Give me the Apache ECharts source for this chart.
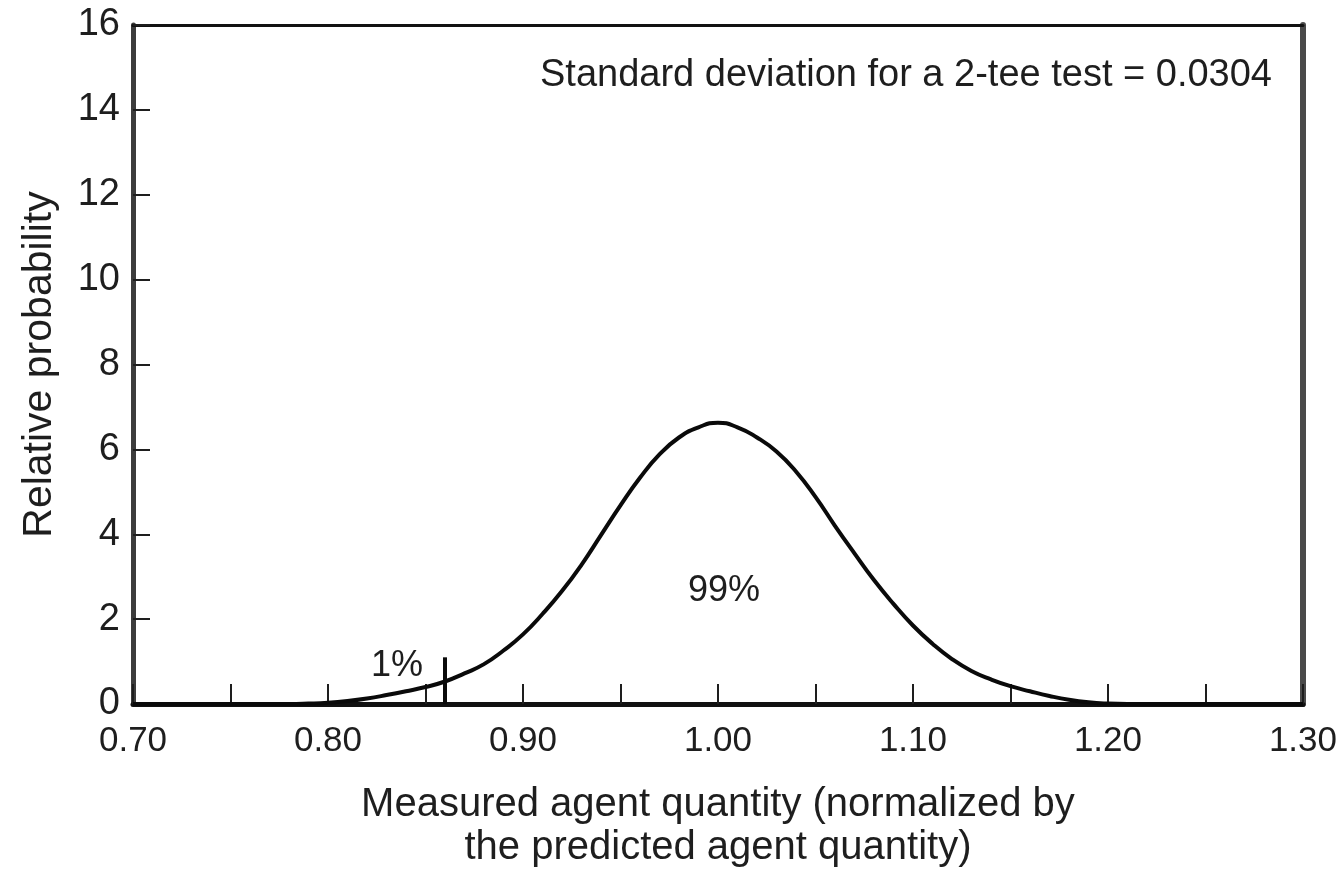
<!DOCTYPE html>
<html>
<head>
<meta charset="utf-8">
<script src="https://cdn.jsdelivr.net/npm/echarts@6/dist/echarts.min.js"></script>
<style>
  html, body { margin: 0; padding: 0; background: #fff; }
  #chart { width: 1340px; height: 877px; }
</style>
</head>
<body>
<div id="chart"></div>
<script>
// Measured quantity (normalized) and its relative probability density
const quantity = [
  0.70, 0.71, 0.72, 0.73, 0.74, 0.75, 0.76, 0.77, 0.78, 0.79,
  0.80, 0.81, 0.82, 0.83, 0.84, 0.85, 0.86, 0.87, 0.88, 0.89,
  0.90, 0.91, 0.92, 0.93, 0.94, 0.95, 0.96, 0.97, 0.98, 0.99,
  1.00, 1.01, 1.02, 1.03, 1.04, 1.05, 1.06, 1.07, 1.08, 1.09,
  1.10, 1.11, 1.12, 1.13, 1.14, 1.15, 1.16, 1.17, 1.18, 1.19,
  1.20, 1.21, 1.22, 1.23, 1.24, 1.25, 1.26, 1.27, 1.28, 1.29, 1.30
];
const probability = [
  0, 0, 0, 0, 0, 0, 0, 0, 0, 0.01,
  0.03, 0.07, 0.13, 0.21, 0.30, 0.40, 0.53, 0.72, 0.94, 1.26,
  1.64, 2.12, 2.66, 3.28, 3.98, 4.68, 5.33, 5.88, 6.28, 6.52,
  6.63, 6.52, 6.28, 5.95, 5.48, 4.88, 4.20, 3.55, 2.92, 2.36,
  1.85, 1.42, 1.06, 0.78, 0.58, 0.42, 0.30, 0.19, 0.10, 0.04,
  0.01, 0, 0, 0, 0, 0, 0, 0, 0, 0, 0
];

// 1% cut-off marker
const cutoffX = [0.86, 0.86];
const cutoffY = [0, 1.1];

const yTicks = ['0', '2', '4', '6', '8', '10', '12', '14', '16'];
const xTickLabels = ['0.70', '0.80', '0.90', '1.00', '1.10', '1.20', '1.30'];

const noteText = 'Standard deviation for a 2-tee test = 0.0304';
const leftShare = '1%';
const rightShare = '99%';

const font = '"Liberation Sans", Arial, Helvetica, sans-serif';
const ink = '#1e1e1e';

const curve = quantity.map((q, i) => [q, probability[i]]);
const cutoff = cutoffX.map((q, i) => [q, cutoffY[i]]);

const chart = echarts.init(document.getElementById('chart'), null, { renderer: 'canvas' });

chart.setOption({
  backgroundColor: '#ffffff',
  animation: false,
  grid: { left: 133, right: 33, top: 25, bottom: 173, containLabel: false },
  xAxis: [
    {
      type: 'value', min: 0.70, max: 1.30, interval: 0.05,
      name: 'Measured agent quantity (normalized by\nthe predicted agent quantity)',
      nameLocation: 'middle', nameGap: 79,
      nameTextStyle: { fontFamily: font, fontSize: 40, color: ink, lineHeight: 43 },
      axisLine: { show: true, onZero: false, lineStyle: { color: '#111', width: 5 } },
      axisTick: { show: true, inside: true, length: 20, lineStyle: { color: ink, width: 2 } },
      splitLine: { show: false },
      axisLabel: {
        margin: 20, fontFamily: font, fontSize: 35, color: ink,
        formatter: v => {
          const s = v.toFixed(2);
          return xTickLabels.indexOf(s) >= 0 ? s : '';
        }
      }
    },
    {
      type: 'value', min: 0.70, max: 1.30, position: 'top',
      axisLine: { show: true, onZero: false, lineStyle: { color: '#111', width: 3 } },
      axisTick: { show: false }, axisLabel: { show: false }, splitLine: { show: false }
    }
  ],
  yAxis: [
    {
      type: 'value', min: 0, max: 16, interval: 2,
      name: 'Relative probability',
      nameLocation: 'middle', nameGap: 73, nameRotate: 90,
      nameTextStyle: { fontFamily: font, fontSize: 41, color: ink },
      axisLine: { show: true, onZero: false, lineStyle: { color: '#3c3c3c', width: 5 } },
      axisTick: { show: true, inside: true, length: 17, lineStyle: { color: ink, width: 2 } },
      splitLine: { show: false },
      axisLabel: {
        margin: 13, fontFamily: font, fontSize: 38, color: ink,
        formatter: v => yTicks[Math.round(v / 2)]
      }
    },
    {
      type: 'value', min: 0, max: 16, position: 'right',
      axisLine: { show: true, onZero: false, lineStyle: { color: '#4a4a4a', width: 6 } },
      axisTick: { show: false }, axisLabel: { show: false }, splitLine: { show: false }
    }
  ],
  series: [
    {
      type: 'line', data: curve, smooth: 0.5, symbol: 'none',
      lineStyle: { color: '#0a0a0a', width: 4 }, z: 3
    },
    {
      type: 'line', data: cutoff, symbol: 'none',
      lineStyle: { color: '#0a0a0a', width: 4 }, z: 4
    }
  ],
  graphic: [
    {
      type: 'text', right: 68, top: 57,
      style: { text: noteText, fontFamily: font, fontSize: 38, fill: ink }
    },
    {
      type: 'text', left: 371, top: 648,
      style: { text: leftShare, fontFamily: font, fontSize: 36, fill: ink }
    },
    {
      type: 'text', left: 688, top: 573,
      style: { text: rightShare, fontFamily: font, fontSize: 36, fill: ink }
    }
  ]
});
</script>
</body>
</html>
